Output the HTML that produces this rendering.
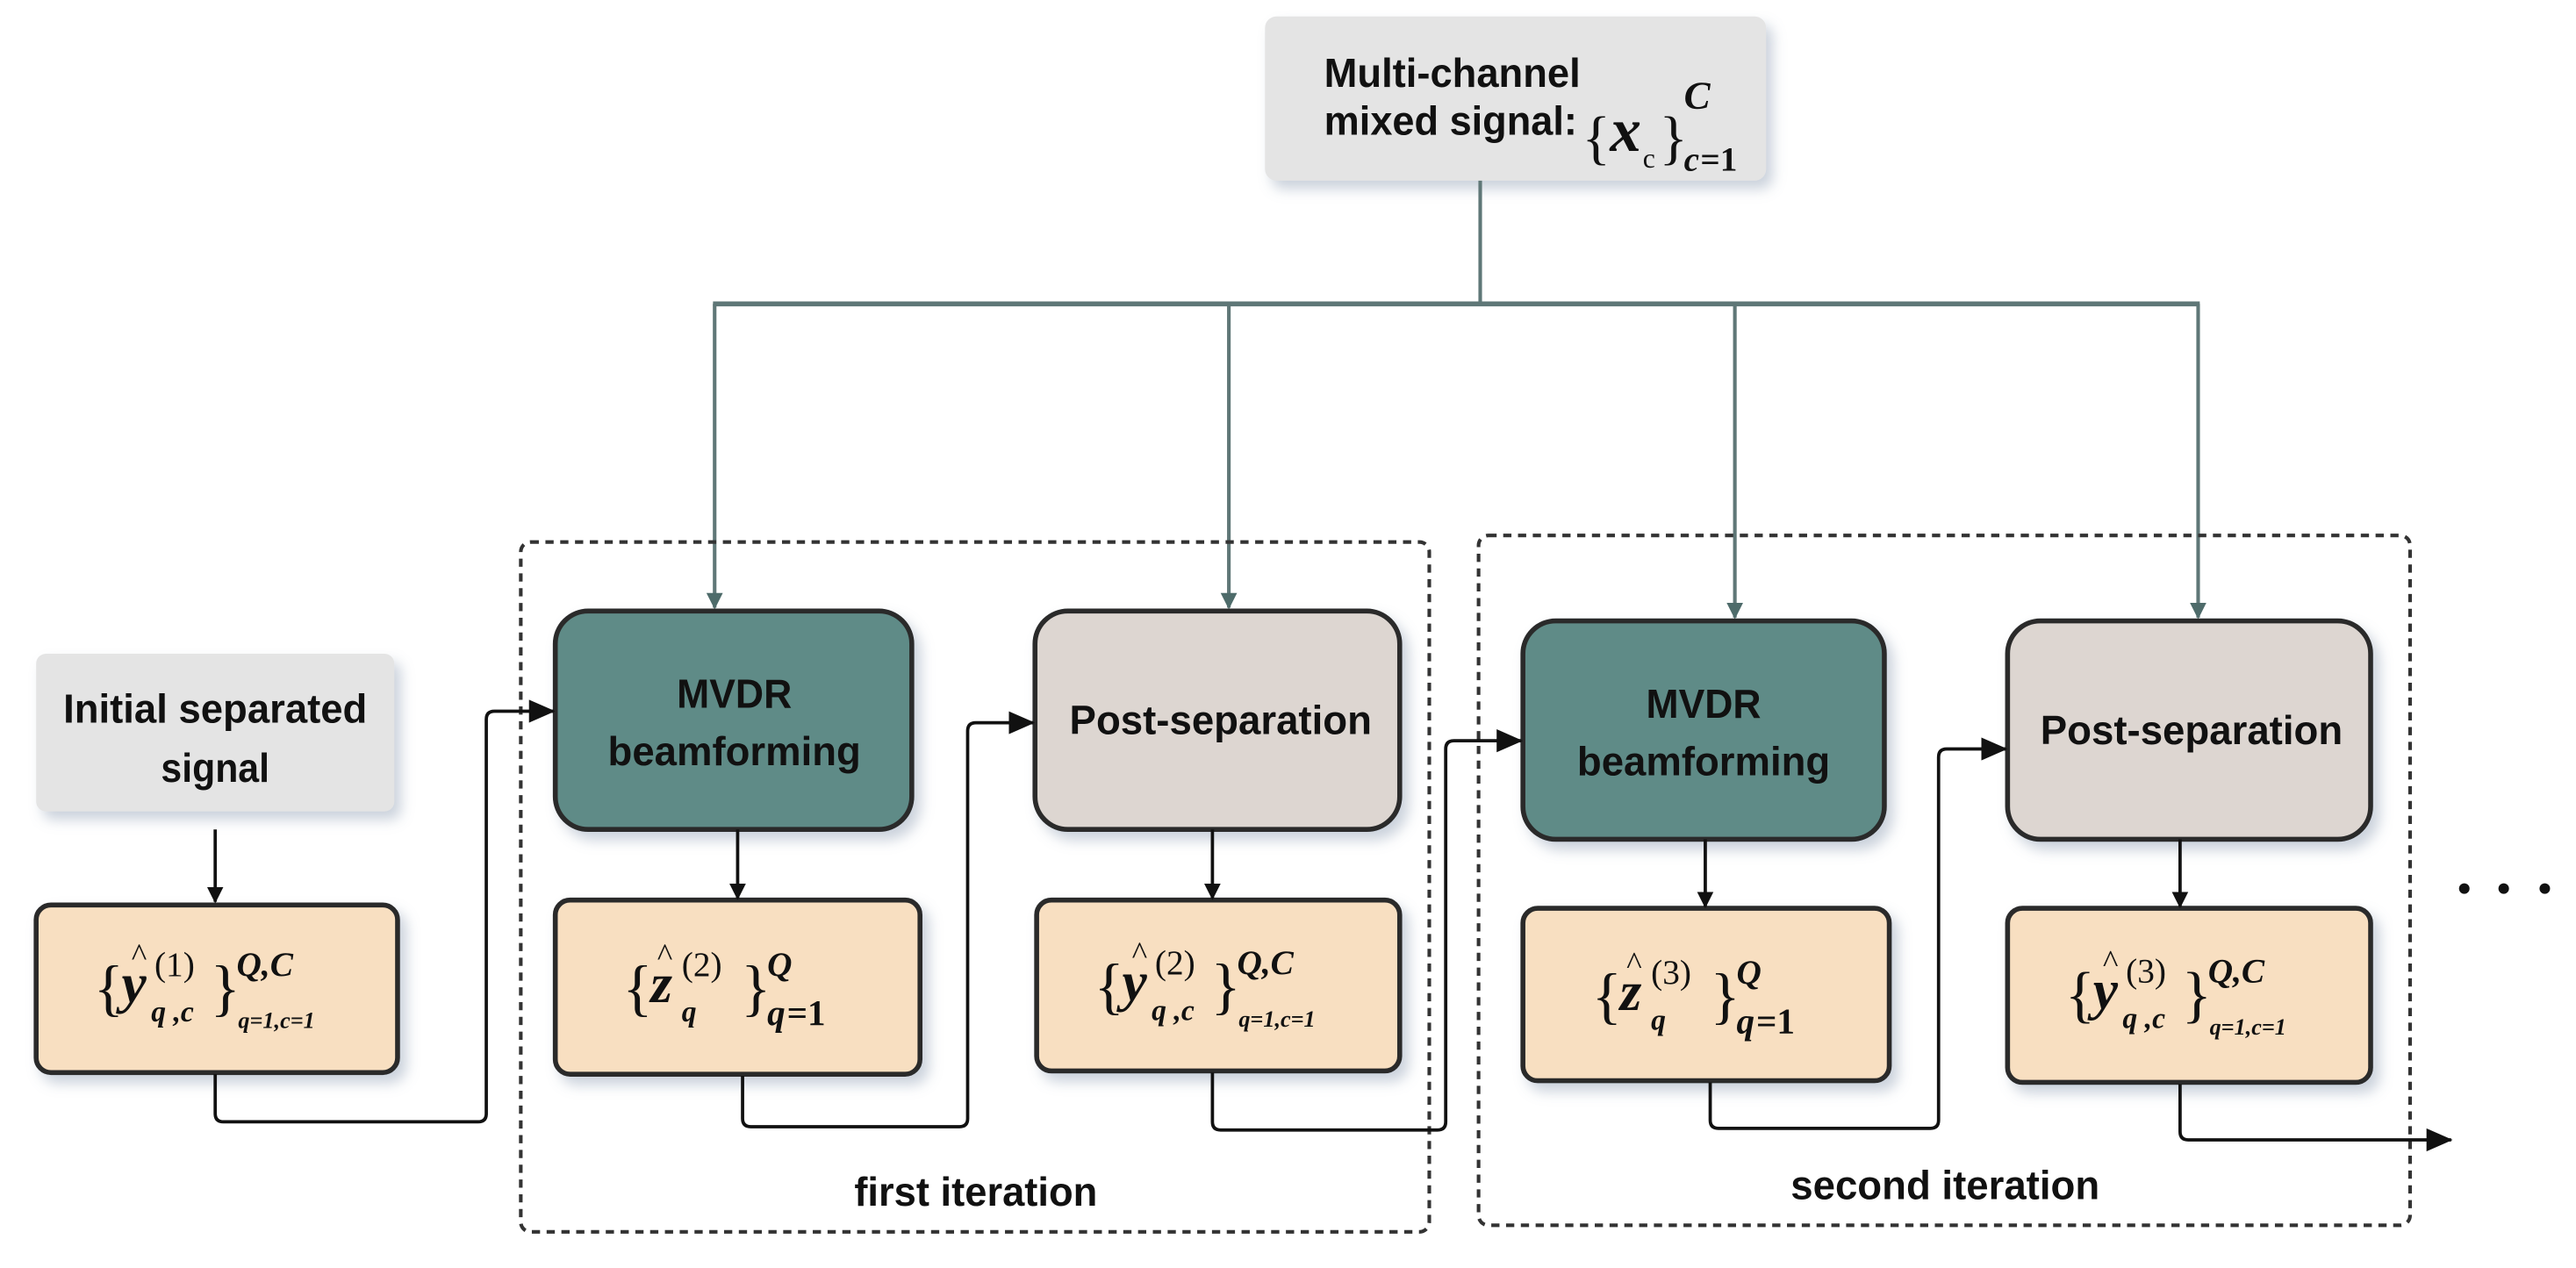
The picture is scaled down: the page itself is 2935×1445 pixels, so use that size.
<!DOCTYPE html>
<html><head><meta charset="utf-8"><style>
html,body{margin:0;padding:0;background:#fff;}
svg{display:block;}
.t{font-family:"Liberation Sans",Arial,sans-serif;font-weight:bold;fill:#111;}
.m{font-family:"Liberation Serif","Times New Roman",serif;font-style:italic;font-weight:bold;fill:#111;}
.r{font-family:"Liberation Serif","Times New Roman",serif;fill:#111;}
</style></head><body>
<svg width="2935" height="1445" viewBox="0 0 1568 772" preserveAspectRatio="none" xmlns="http://www.w3.org/2000/svg">
<defs>
<filter id="sh" x="-20%" y="-20%" width="150%" height="150%"><feDropShadow dx="4" dy="5" stdDeviation="4" flood-color="#8a9ab0" flood-opacity="0.45"/></filter>
<marker id="ab" markerWidth="10" markerHeight="10" refX="9" refY="5" orient="auto" markerUnits="userSpaceOnUse"><path d="M0,0 L10,5 L0,10 z" fill="#111"/></marker>
<marker id="ag" markerWidth="10" markerHeight="12" refX="9" refY="5" orient="auto" markerUnits="userSpaceOnUse"><path d="M0,0 L10,5 L0,10 z" fill="#4e6b6a"/></marker>
<marker id="abig" markerWidth="16" markerHeight="14" refX="15" refY="7" orient="auto" markerUnits="userSpaceOnUse"><path d="M0,0 L16,7 L0,14 z" fill="#111"/></marker>
</defs>

<!-- top box -->
<rect x="770" y="10" width="305" height="100" rx="7" fill="#e4e4e4" filter="url(#sh)"/>
<text class="t" x="806" y="53" font-size="25" textLength="156" lengthAdjust="spacingAndGlyphs">Multi-channel</text>
<text class="t" x="806" y="82" font-size="25" textLength="154" lengthAdjust="spacingAndGlyphs">mixed signal:</text>
<text class="r" x="963" y="96" font-size="36">{</text>
<text class="m" x="980" y="92" font-size="38">x</text>
<text class="r" x="1000" y="102" font-size="17">c</text>
<text class="r" x="1010" y="96" font-size="36">}</text>
<text class="m" x="1025" y="66" font-size="24">C</text>
<text class="m" x="1025" y="104" font-size="21">c</text>
<text class="r" x="1035" y="104" font-size="21" font-weight="bold">=1</text>

<!-- distribution lines -->
<g stroke="#5f7777" stroke-width="2.2" fill="none">
<line x1="901" y1="110" x2="901" y2="185"/>
<line x1="434" y1="185" x2="1339" y2="185" stroke-width="3"/>
<line x1="435" y1="185" x2="435" y2="370" marker-end="url(#ag)"/>
<line x1="748" y1="185" x2="748" y2="370" marker-end="url(#ag)"/>
<line x1="1056" y1="185" x2="1056" y2="376" marker-end="url(#ag)"/>
<line x1="1338" y1="185" x2="1338" y2="376" marker-end="url(#ag)"/>
</g>

<!-- dashed iteration boxes -->
<rect x="317" y="330" width="553" height="420" rx="6" fill="none" stroke="#333" stroke-width="2.2" stroke-dasharray="5,4"/>
<rect x="900" y="326" width="567" height="420" rx="6" fill="none" stroke="#333" stroke-width="2.2" stroke-dasharray="5,4"/>
<text class="t" x="594" y="734" font-size="25" text-anchor="middle" textLength="148" lengthAdjust="spacingAndGlyphs">first iteration</text>
<text class="t" x="1184" y="730" font-size="25" text-anchor="middle" textLength="188" lengthAdjust="spacingAndGlyphs">second iteration</text>

<!-- initial -->
<rect x="22" y="398" width="218" height="96" rx="6" fill="#e4e4e4" filter="url(#sh)"/>
<text class="t" x="131" y="440" font-size="25" text-anchor="middle" textLength="185" lengthAdjust="spacingAndGlyphs">Initial separated</text>
<text class="t" x="131" y="476" font-size="25" text-anchor="middle" textLength="66" lengthAdjust="spacingAndGlyphs">signal</text>

<!-- process boxes -->
<g stroke="#2b2b2b" stroke-width="3" filter="url(#sh)">
<rect x="338" y="372" width="217" height="133" rx="20" fill="#5f8b87"/>
<rect x="630" y="372" width="222" height="133" rx="20" fill="#ddd6d1"/>
<rect x="927" y="378" width="220" height="133" rx="20" fill="#5f8b87"/>
<rect x="1222" y="378" width="221" height="133" rx="20" fill="#ddd6d1"/>
<rect x="22" y="551" width="220" height="102" rx="9" fill="#f8dfc1"/>
<rect x="338" y="548" width="222" height="106" rx="9" fill="#f8dfc1"/>
<rect x="631" y="548" width="221" height="104" rx="9" fill="#f8dfc1"/>
<rect x="927" y="553" width="223" height="105" rx="9" fill="#f8dfc1"/>
<rect x="1222" y="553" width="221" height="106" rx="9" fill="#f8dfc1"/>
</g>
<text class="t" x="447" y="431" font-size="25" text-anchor="middle" textLength="70" lengthAdjust="spacingAndGlyphs">MVDR</text>
<text class="t" x="447" y="466" font-size="25" text-anchor="middle" textLength="154" lengthAdjust="spacingAndGlyphs">beamforming</text>
<text class="t" x="743" y="447" font-size="25" text-anchor="middle" textLength="184" lengthAdjust="spacingAndGlyphs">Post-separation</text>
<text class="t" x="1037" y="437" font-size="25" text-anchor="middle" textLength="70" lengthAdjust="spacingAndGlyphs">MVDR</text>
<text class="t" x="1037" y="472" font-size="25" text-anchor="middle" textLength="154" lengthAdjust="spacingAndGlyphs">beamforming</text>
<text class="t" x="1334" y="453" font-size="25" text-anchor="middle" textLength="184" lengthAdjust="spacingAndGlyphs">Post-separation</text>

<!-- math: yhat -->
<g transform="translate(132,602)">
<text class="r" x="-75" y="12" font-size="38">{</text>
<text class="m" x="-58" y="8" font-size="34">y</text>
<text class="r" x="-52" y="-14" font-size="20">^</text>
<text class="r" x="-38" y="-8" font-size="21">(1)</text>
<text class="m" x="-40" y="20" font-size="18">q ,c</text>
<text class="r" x="-4" y="12" font-size="38">}</text>
<text class="m" x="12" y="-8" font-size="21">Q,C</text>
<text class="m" x="13" y="24" font-size="14">q=1,c=1</text>
</g>
<g transform="translate(741,601)">
<text class="r" x="-75" y="12" font-size="38">{</text>
<text class="m" x="-58" y="8" font-size="34">y</text>
<text class="r" x="-52" y="-14" font-size="20">^</text>
<text class="r" x="-38" y="-8" font-size="21">(2)</text>
<text class="m" x="-40" y="20" font-size="18">q ,c</text>
<text class="r" x="-4" y="12" font-size="38">}</text>
<text class="m" x="12" y="-8" font-size="21">Q,C</text>
<text class="m" x="13" y="24" font-size="14">q=1,c=1</text>
</g>
<g transform="translate(1332,606)">
<text class="r" x="-75" y="12" font-size="38">{</text>
<text class="m" x="-58" y="8" font-size="34">y</text>
<text class="r" x="-52" y="-14" font-size="20">^</text>
<text class="r" x="-38" y="-8" font-size="21">(3)</text>
<text class="m" x="-40" y="20" font-size="18">q ,c</text>
<text class="r" x="-4" y="12" font-size="38">}</text>
<text class="m" x="12" y="-8" font-size="21">Q,C</text>
<text class="m" x="13" y="24" font-size="14">q=1,c=1</text>
</g>
<!-- math: zhat -->
<g transform="translate(449,602)">
<text class="r" x="-70" y="12" font-size="38">{</text>
<text class="m" x="-53" y="8" font-size="34">z</text>
<text class="r" x="-49" y="-14" font-size="20">^</text>
<text class="r" x="-34" y="-8" font-size="21">(2)</text>
<text class="m" x="-34" y="20" font-size="18">q</text>
<text class="r" x="2" y="12" font-size="38">}</text>
<text class="m" x="18" y="-8" font-size="21">Q</text>
<text class="m" x="18" y="22" font-size="22">q</text>
<text class="r" x="30" y="22" font-size="22" font-weight="bold">=1</text>
</g>
<g transform="translate(1039,607)">
<text class="r" x="-70" y="12" font-size="38">{</text>
<text class="m" x="-53" y="8" font-size="34">z</text>
<text class="r" x="-49" y="-14" font-size="20">^</text>
<text class="r" x="-34" y="-8" font-size="21">(3)</text>
<text class="m" x="-34" y="20" font-size="18">q</text>
<text class="r" x="2" y="12" font-size="38">}</text>
<text class="m" x="18" y="-8" font-size="21">Q</text>
<text class="m" x="18" y="22" font-size="22">q</text>
<text class="r" x="30" y="22" font-size="22" font-weight="bold">=1</text>
</g>

<!-- black connectors -->
<g stroke="#111" stroke-width="2" fill="none">
<line x1="131" y1="505" x2="131" y2="549" marker-end="url(#ab)"/>
<line x1="449" y1="505" x2="449" y2="547" marker-end="url(#ab)"/>
<line x1="738" y1="505" x2="738" y2="547" marker-end="url(#ab)"/>
<line x1="1038" y1="511" x2="1038" y2="552" marker-end="url(#ab)"/>
<line x1="1327" y1="511" x2="1327" y2="552" marker-end="url(#ab)"/>
<path d="M131,654 V678 Q131,683 136,683 H291 Q296,683 296,678 V438 Q296,433 301,433 H337" marker-end="url(#abig)"/>
<path d="M452,655 V681 Q452,686 457,686 H584 Q589,686 589,681 V445 Q589,440 594,440 H629" marker-end="url(#abig)"/>
<path d="M738,653 V683 Q738,688 743,688 H875 Q880,688 880,683 V456 Q880,451 885,451 H926" marker-end="url(#abig)"/>
<path d="M1041,659 V682 Q1041,687 1046,687 H1175 Q1180,687 1180,682 V461 Q1180,456 1185,456 H1221" marker-end="url(#abig)"/>
<path d="M1327,660 V689 Q1327,694 1332,694 H1492" marker-end="url(#abig)"/>
</g>
<circle cx="1500" cy="541" r="3.2" fill="#111"/>
<circle cx="1524" cy="541" r="3.2" fill="#111"/>
<circle cx="1549" cy="541" r="3.2" fill="#111"/>
</svg>
</body></html>
